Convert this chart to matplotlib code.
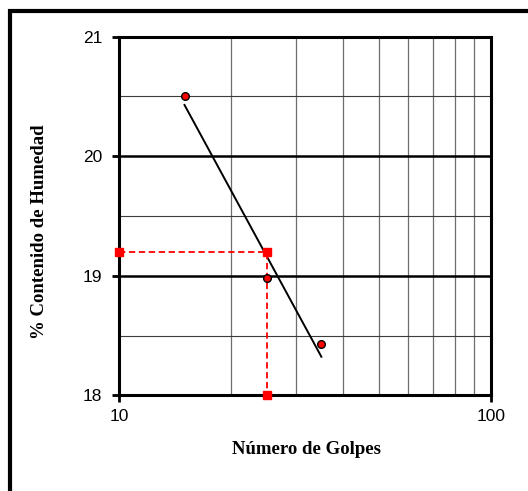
import numpy as np
import matplotlib
matplotlib.use("Agg")
import matplotlib.pyplot as plt
from matplotlib.patches import Rectangle

# ensayo de límite líquido (Casagrande)
golpes = [15, 25, 35]
humedad = [20.50, 18.98, 18.43]
golpes_ref = 25
ll = 19.2

x_ticks = [10, 100]
y_ticks = [18, 19, 20, 21]
y_minor = [18.5, 19.5, 20.5]
x_minor = [20, 30, 40, 50, 60, 70, 80, 90]

fig = plt.figure(figsize=(5.28, 4.91), dpi=100)
ax = fig.add_axes([119 / 528, 1 - 395.3 / 491, 372 / 528, 358.6 / 491])

# marco exterior
fig.patches.append(Rectangle((10 / 528, -0.1), 1.2, 1.1 - 11 / 491,
                             transform=fig.transFigure, fill=False,
                             ec="black", lw=3, zorder=0))

ax.set_xscale("log")
ax.set_xlim(10, 100)
ax.set_ylim(18, 21)

# rejilla
for v in x_minor:
    ax.axvline(v, color="#6e6e6e", lw=0.9, zorder=1)
for v in y_minor:
    ax.axhline(v, color="#3c3c3c", lw=0.8, zorder=1)
for v in [19, 20]:
    ax.axhline(v, color="black", lw=1.8, zorder=1)

# recta de ajuste semilog
p = np.polyfit(np.log10(golpes), humedad, 1)
xf = np.array([min(golpes), max(golpes)])
ax.plot(xf, np.polyval(p, np.log10(xf)), color="black", lw=1.4, zorder=3)

# lectura del límite líquido a 25 golpes
ax.plot([10, golpes_ref, golpes_ref], [ll, ll, 18], color="red", ls=(0, (3.5, 2)),
        lw=1.3, marker="s", ms=6, mfc="red", mec="red", zorder=4, clip_on=False)

ax.plot(golpes, humedad, ls="none", marker="o", ms=5.5, mfc="red", mec="black",
        mew=1, zorder=5)

ax.set_xticks(x_ticks)
ax.set_xticklabels(["10", "100"])
ax.xaxis.set_minor_locator(matplotlib.ticker.NullLocator())
ax.set_yticks(y_ticks)
ax.set_yticklabels([str(v) for v in y_ticks])
ax.tick_params(axis="both", length=5, width=2, direction="out", labelsize=12.5,
               labelfontfamily="Liberation Sans")
ax.tick_params(axis="y", pad=7)
ax.tick_params(axis="x", pad=5)
for s in ax.spines.values():
    s.set_linewidth(2.2)

fig.text(40 / 528, 1 - 232 / 491, "% Contenido de Humedad", rotation=90,
         ha="center", va="center", family="Liberation Serif", weight="bold",
         fontsize=13.5)
fig.text(307 / 528, 1 - 450 / 491, "Número de Golpes", ha="center", va="center",
         family="Liberation Serif", weight="bold", fontsize=13.5)

fig.savefig("out.png", dpi=100)
